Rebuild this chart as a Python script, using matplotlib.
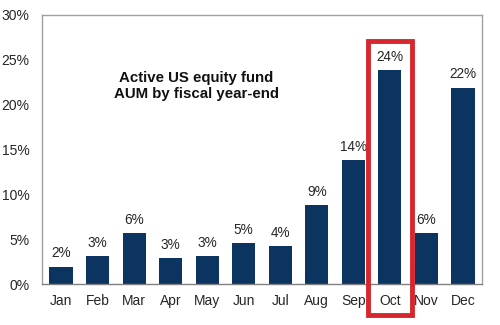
import matplotlib.pyplot as plt
from matplotlib.patches import Rectangle

plt.rcParams['font.family'] = ['Liberation Sans', 'DejaVu Sans']

# Datos (% de AUM por cierre fiscal)
meses = ["Jan", "Feb", "Mar", "Apr", "May", "Jun", "Jul", "Aug", "Sep", "Oct", "Nov", "Dec"]
valores = [1.95, 3.1, 5.65, 2.9, 3.1, 4.55, 4.25, 8.8, 13.8, 23.85, 5.65, 21.9]
destacado = "Oct"

fig = plt.figure(figsize=(5, 3.25), dpi=100)
ax = fig.add_axes([0.084, 0.126, 0.88, 0.828])

pos = range(len(meses))
ax.bar(pos, valores, width=0.63, color="#0c3461", zorder=2)

# Etiquetas de valor encima de cada barra
for i, v in enumerate(valores):
    ax.text(i, v + 0.7, f"{round(v)}%", ha="center", va="bottom",
            fontsize=9.8, color="#262626")

ax.set_xlim(-0.52, len(meses) - 0.48)
ax.set_ylim(0, 30)
ax.set_yticks(range(0, 31, 5))
ax.set_yticklabels([f"{t}%" for t in range(0, 31, 5)])
ax.set_xticks(list(pos))
ax.set_xticklabels(meses)
ax.tick_params(length=0, labelsize=10, colors="#262626")
ax.tick_params(axis="y", pad=9)
ax.tick_params(axis="x", pad=7)

for s in ax.spines.values():
    s.set_color("#a0a0a0")
    s.set_linewidth(1)
ax.spines["bottom"].set_color("#808080")

# Titulo dentro del area del grafico
ax.text(3.7, 22.1, "Active US equity fund\nAUM by fiscal year-end", ha="center",
        va="center", fontsize=10.8, fontweight="bold", color="#111111",
        linespacing=1.15)

# Recuadro rojo alrededor de octubre
i = meses.index(destacado)
rect = Rectangle((i - 0.61, -3.45), 1.22, 30.55, fill=False, edgecolor="#d7262e",
                 linewidth=3.5, clip_on=False, zorder=3)
ax.add_patch(rect)

fig.savefig("out.png", dpi=100)
